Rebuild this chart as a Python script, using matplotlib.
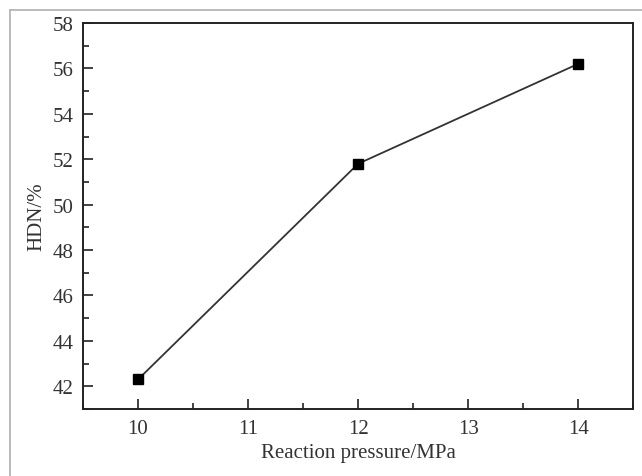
import matplotlib
matplotlib.use("Agg")
import matplotlib.pyplot as plt
from matplotlib.lines import Line2D
from matplotlib.ticker import MultipleLocator

pressure = [10, 12, 14]
hdn = [42.3, 51.8, 56.2]

plt.rcParams['font.family'] = ['Liberation Serif', 'DejaVu Serif']

fig = plt.figure(figsize=(6.42, 4.77), dpi=100)
ax = fig.add_axes([0.1293, 0.1405, 0.857, 0.8092])

ax.plot(pressure, hdn, color="#333333", lw=1.3, marker="s", ms=6.5,
        mfc="black", mec="black")

ax.set_xlim(9.5, 14.5)
ax.set_ylim(41, 58)
ax.xaxis.set_major_locator(MultipleLocator(1))
ax.xaxis.set_minor_locator(MultipleLocator(0.5))
ax.yaxis.set_major_locator(MultipleLocator(2))
ax.yaxis.set_minor_locator(MultipleLocator(1))
ax.tick_params(which="both", direction="in", top=False, right=False,
               labelsize=15, colors="#222222", labelcolor="#333333")
ax.tick_params(which="major", length=7, width=1.2, pad=7)
ax.tick_params(which="minor", length=4, width=1.2)
for s in ax.spines.values():
    s.set_linewidth(1.4)
    s.set_color("#222222")

ax.set_xlabel("Reaction pressure/MPa", fontsize=15, color="#333333", labelpad=4)
ax.set_ylabel("HDN/%", fontsize=15, color="#333333", labelpad=4)

# light gray frame of the screenshot (top and left edges)
fig.add_artist(Line2D([10/642, 1], [1 - 11/477, 1 - 11/477],
                      transform=fig.transFigure, color="#b5b5b5", lw=1.3))
fig.add_artist(Line2D([10/642, 10/642], [0, 1 - 11/477],
                      transform=fig.transFigure, color="#b5b5b5", lw=1.3))

fig.savefig("out.png", dpi=100)
